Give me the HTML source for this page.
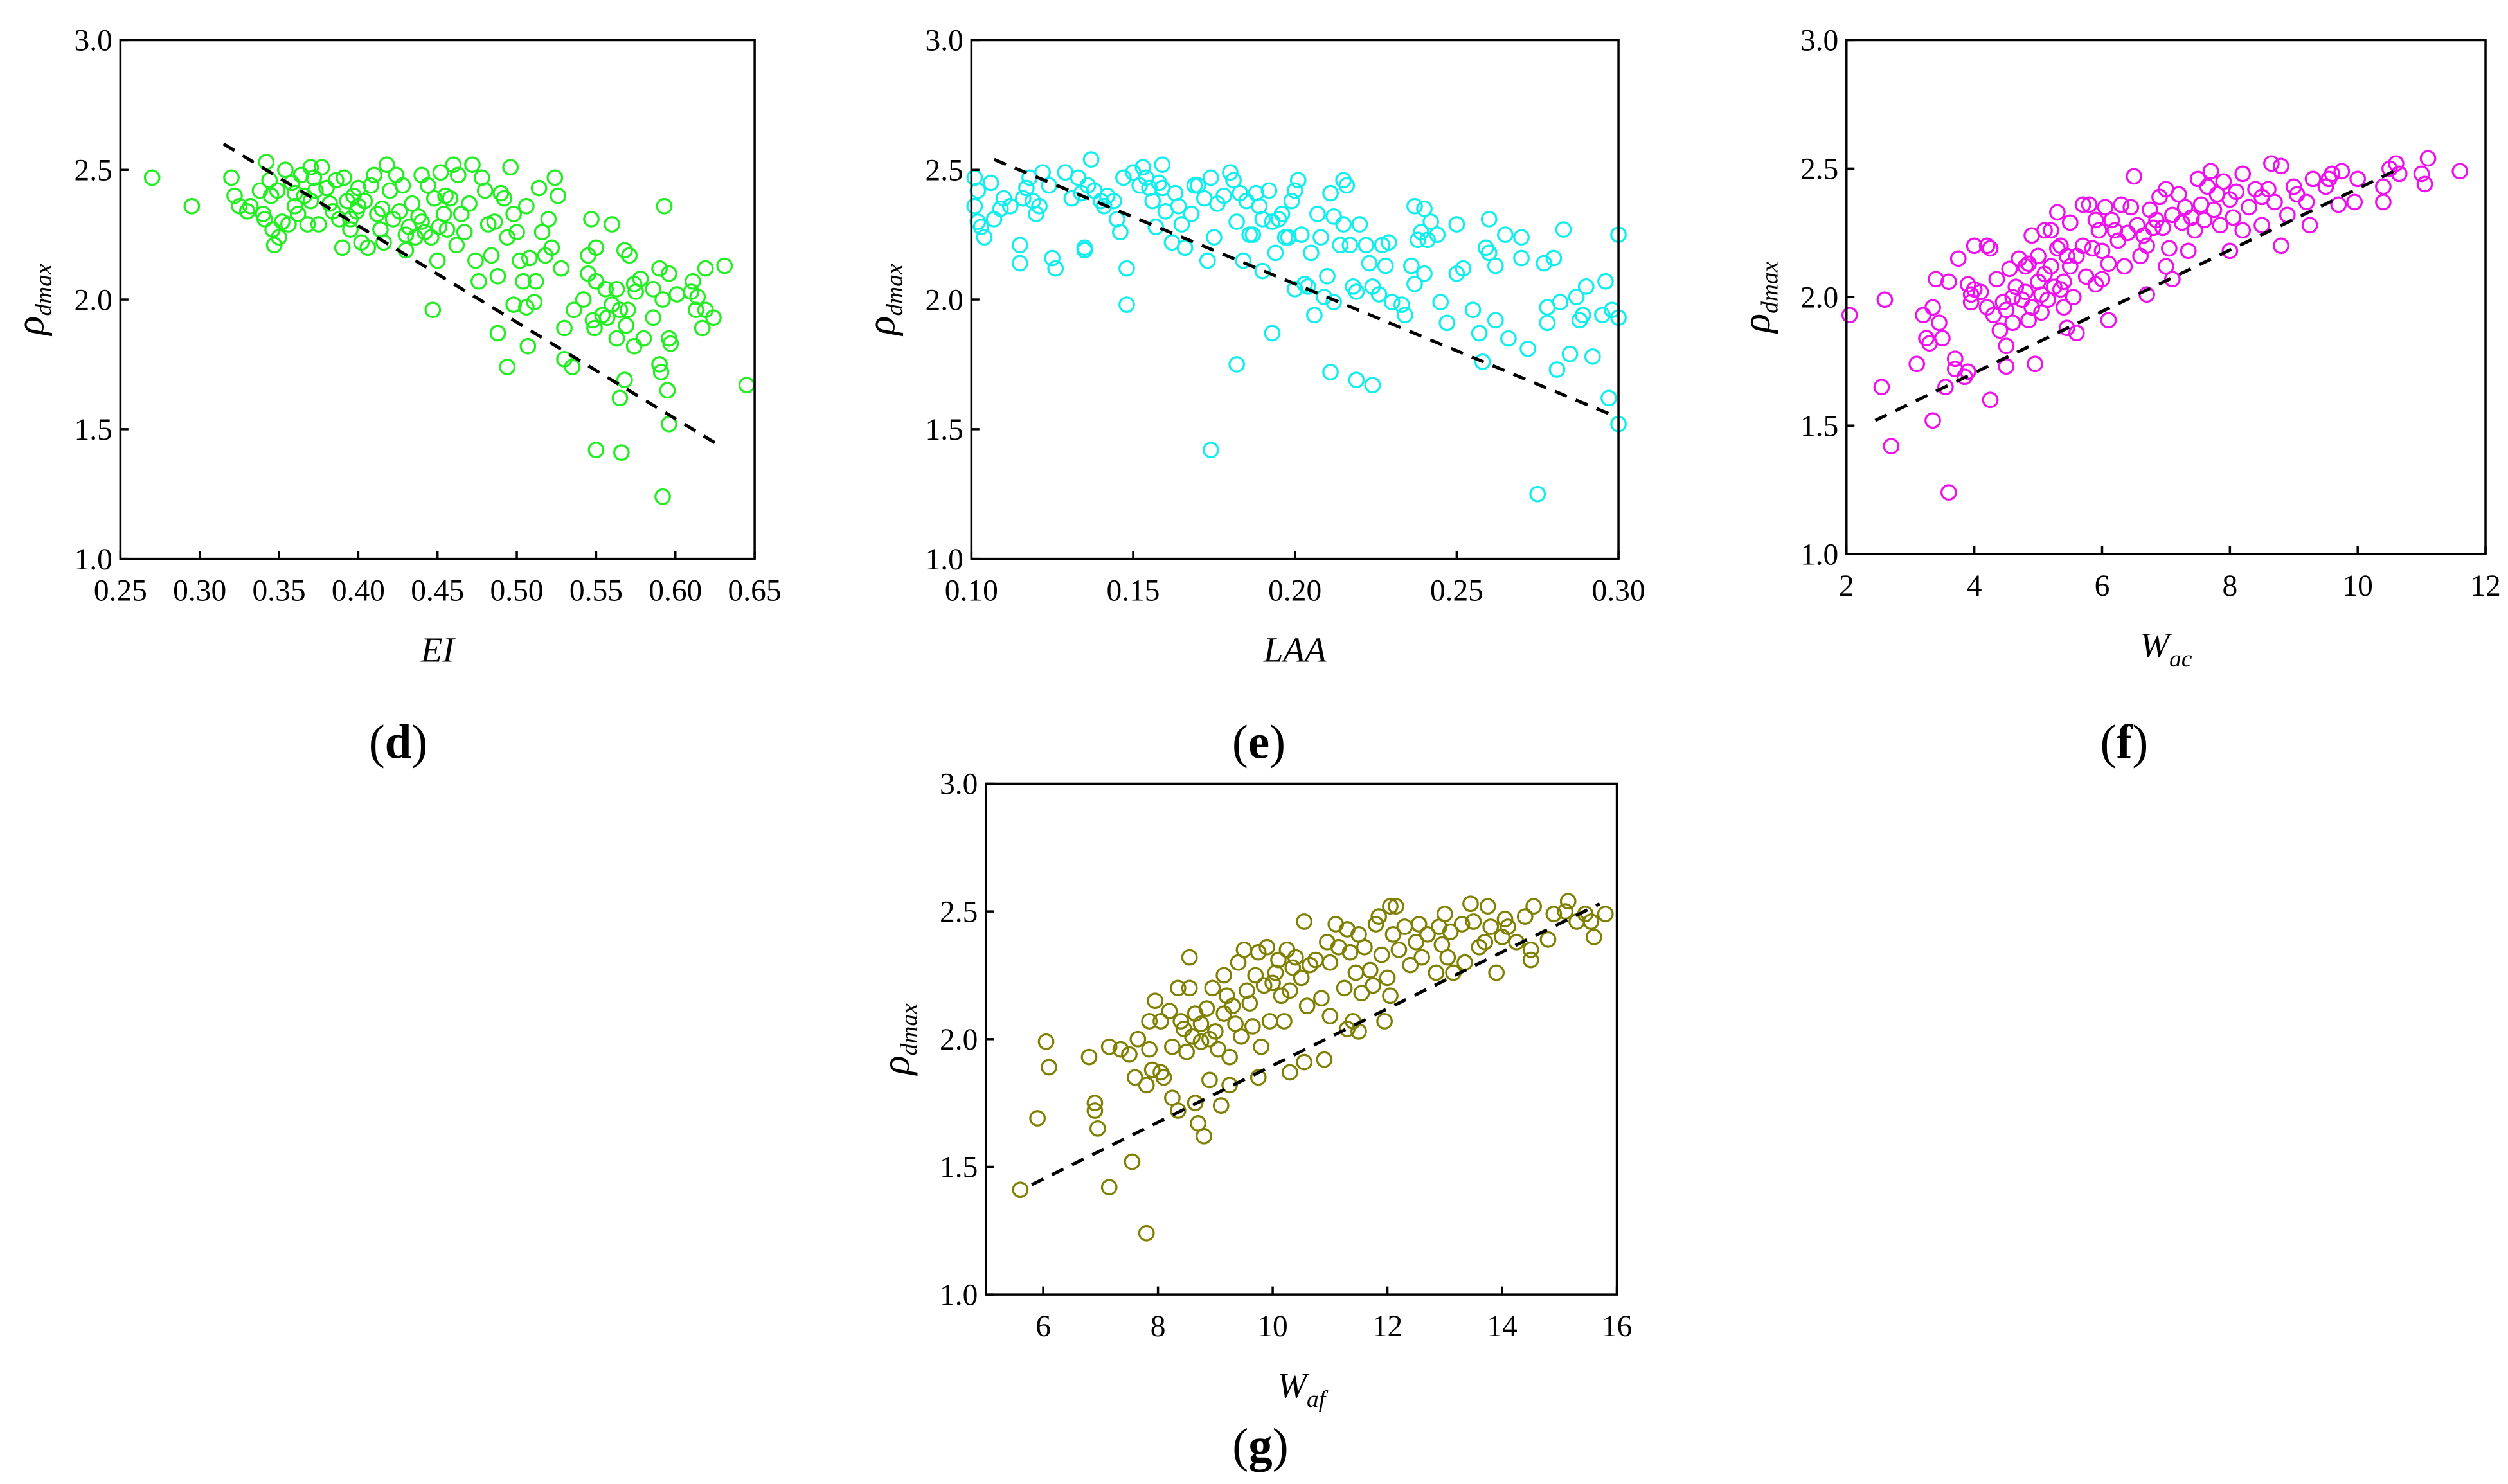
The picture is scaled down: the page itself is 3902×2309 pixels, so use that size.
<!DOCTYPE html>
<html><head><meta charset="utf-8"><style>
html,body{margin:0;padding:0;background:#fff;}
svg{display:block;}
text{font-family:"Liberation Serif","DejaVu Serif",serif;fill:#000;}
</style></head><body>
<svg id="fig" width="3902" height="2309" viewBox="0 0 1562 924" preserveAspectRatio="none" xmlns="http://www.w3.org/2000/svg"></svg>
<script>
const dX = [0.27,0.295,0.32,0.322,0.325,0.33,0.332,0.338,0.34,0.341,0.342,0.344,0.345,0.346,0.347,0.349,0.35,0.352,0.354,0.356,0.358,0.36,0.362,0.364,0.366,0.368,0.37,0.372,0.373,0.375,0.377,0.38,0.382,0.384,0.386,0.388,0.39,0.391,0.393,0.395,0.397,0.399,0.40,0.402,0.404,0.406,0.408,0.41,0.412,0.414,0.416,0.418,0.42,0.422,0.424,0.426,0.428,0.43,0.432,0.434,0.436,0.438,0.44,0.442,0.444,0.446,0.448,0.45,0.451,0.452,0.454,0.456,0.458,0.46,0.462,0.463,0.465,0.467,0.47,0.472,0.474,0.476,0.478,0.48,0.482,0.484,0.486,0.488,0.49,0.492,0.494,0.496,0.498,0.50,0.502,0.504,0.506,0.508,0.512,0.514,0.516,0.518,0.52,0.522,0.524,0.526,0.528,0.40,0.37,0.44,0.36,0.43,0.415,0.455,0.395,
0.547,0.56,0.593,0.55,0.545,0.568,0.571,0.578,0.574,0.59,0.596,0.611,0.619,0.631,0.545,0.55,0.556,0.563,0.575,0.586,0.592,0.601,0.61,0.614,0.613,0.619,0.624,0.617,0.542,0.536,0.548,0.554,0.557,0.56,0.565,0.57,0.569,0.563,0.58,0.586,0.574,0.596,0.597,0.549,0.53,0.53,0.535,0.59,0.591,0.568,0.565,0.595,0.596,0.55,0.566,0.592,0.645,0.507,0.494,0.488,0.447,0.511,0.498,0.506];
const dY = [2.47,2.36,2.47,2.40,2.36,2.34,2.36,2.42,2.33,2.31,2.53,2.46,2.40,2.27,2.21,2.42,2.24,2.30,2.50,2.29,2.45,2.36,2.33,2.48,2.40,2.29,2.51,2.47,2.42,2.29,2.51,2.43,2.37,2.34,2.46,2.31,2.20,2.47,2.38,2.27,2.40,2.34,2.43,2.22,2.38,2.20,2.44,2.48,2.33,2.27,2.22,2.52,2.42,2.31,2.48,2.34,2.44,2.19,2.28,2.37,2.24,2.32,2.48,2.26,2.44,2.24,2.39,2.15,2.28,2.49,2.33,2.27,2.39,2.52,2.21,2.48,2.33,2.26,2.37,2.52,2.15,2.07,2.47,2.42,2.29,2.17,2.30,2.09,2.41,2.39,2.24,2.51,2.33,2.26,2.15,2.07,2.36,2.16,2.07,2.43,2.26,2.17,2.31,2.20,2.47,2.40,2.12,2.36,2.38,2.30,2.41,2.25,2.35,2.40,2.31,
2.31,2.29,2.36,2.20,2.17,2.19,2.17,2.08,2.06,2.12,2.10,2.07,2.12,2.13,2.10,2.07,2.04,2.04,2.03,2.04,2.00,2.02,2.03,2.01,1.96,1.96,1.93,1.89,2.00,1.96,1.92,1.94,1.93,1.98,1.96,1.96,1.90,1.85,1.85,1.93,1.82,1.85,1.83,1.89,1.89,1.77,1.74,1.75,1.72,1.69,1.62,1.65,1.52,1.42,1.41,1.24,1.67,1.82,1.74,1.87,1.96,1.99,1.98,1.97];
const eX = [0.101,0.102,0.101,0.102,0.103,0.104,0.106,0.107,0.109,0.11,0.112,0.115,0.115,0.116,0.117,0.118,0.119,0.12,0.121,0.122,0.124,0.125,0.126,0.129,0.131,0.133,0.134,0.135,0.135,0.136,0.137,0.138,0.14,0.141,0.142,0.144,0.145,0.146,0.147,0.148,0.15,0.152,0.153,0.154,0.155,0.156,0.157,0.158,0.159,0.159,0.16,0.162,0.163,0.164,0.165,0.166,0.168,0.169,0.17,0.172,0.173,0.174,0.175,0.176,0.178,0.18,0.181,0.182,0.183,0.184,0.185,0.186,0.187,0.188,0.189,0.19,0.19,0.192,0.193,0.194,0.195,0.196,0.197,0.198,0.199,0.2,0.201,0.202,0.203,0.204,0.205,0.206,0.207,0.208,0.209,0.21,0.211,0.212,0.214,0.215,0.215,0.216,0.217,0.218,0.219,0.22,0.222,0.223,0.224,0.226,0.227,0.228,0.229,0.23,0.233,0.234,0.236,0.237,0.237,0.238,0.239,0.24,0.24,0.241,0.242,0.244,0.245,0.247,0.25,0.252,0.25,0.255,0.257,0.258,0.259,0.26,0.26,0.262,0.262,0.265,0.266,0.27,0.27,0.272,0.275,0.277,0.278,0.278,0.28,0.281,0.282,0.283,0.285,0.287,0.288,0.289,0.29,0.292,0.295,0.296,0.297,0.298,0.3,0.3,0.3,0.148,0.193,0.174,0.182,0.211,0.219,0.224,0.2,0.212];
const eY = [2.47,2.42,2.36,2.30,2.28,2.24,2.45,2.31,2.35,2.39,2.36,2.21,2.14,2.39,2.43,2.47,2.38,2.33,2.36,2.49,2.44,2.16,2.12,2.49,2.39,2.47,2.41,2.20,2.19,2.44,2.54,2.42,2.38,2.36,2.40,2.38,2.31,2.26,2.47,2.12,2.49,2.44,2.51,2.47,2.43,2.38,2.28,2.45,2.52,2.43,2.34,2.22,2.41,2.36,2.29,2.20,2.33,2.44,2.44,2.39,2.15,2.47,2.24,2.37,2.40,2.49,2.46,2.30,2.41,2.15,2.38,2.25,2.25,2.41,2.36,2.31,2.11,2.42,2.30,2.18,2.31,2.33,2.24,2.24,2.38,2.42,2.46,2.25,2.06,2.05,2.18,1.94,2.33,2.24,2.01,2.09,2.41,2.32,2.21,2.29,2.46,2.44,2.21,2.05,2.03,2.29,2.21,2.14,2.05,2.02,2.21,2.13,2.22,1.99,1.98,1.94,2.13,2.06,2.36,2.23,2.26,2.10,2.35,2.23,2.30,2.25,1.99,1.91,2.10,2.12,2.29,1.96,1.87,1.76,2.20,2.31,2.18,1.92,2.13,2.25,1.85,2.24,2.16,1.81,1.25,2.14,1.97,1.91,2.16,1.73,1.99,2.27,1.79,2.01,1.92,1.94,2.05,1.78,1.94,2.07,1.62,1.96,1.93,2.25,1.52,1.98,1.87,1.42,1.75,1.72,1.69,1.67,2.04,1.99];
const fX = [2.05,2.55,2.6,2.7,3.1,3.2,3.25,3.3,3.35,3.35,3.4,3.45,3.5,3.55,3.6,3.6,3.7,3.7,3.75,3.85,3.9,3.9,3.95,3.95,4.0,4.0,4.1,4.2,4.25,4.2,4.25,4.3,4.35,4.4,4.45,4.5,4.5,4.5,4.55,4.6,4.6,4.65,4.7,4.75,4.8,4.8,4.85,4.85,4.9,4.9,4.95,5.0,5.0,5.05,5.05,5.1,5.1,5.15,5.2,5.2,5.25,5.3,5.3,5.35,5.35,5.4,5.4,5.45,5.45,5.5,5.5,5.55,5.6,5.6,5.7,5.7,5.75,5.8,5.85,5.9,5.9,5.95,6.0,6.0,6.05,6.1,6.1,6.15,6.2,6.25,6.3,6.35,6.4,6.45,6.5,6.55,6.6,6.65,6.7,6.7,6.75,6.8,6.85,6.9,6.95,7.0,7.0,7.05,7.1,7.1,7.2,7.25,7.3,7.35,7.4,7.45,7.5,7.55,7.6,7.65,7.7,7.75,7.8,7.85,7.9,8.0,8.0,8.05,8.1,8.2,8.2,8.3,8.4,8.5,8.5,8.6,8.65,8.7,8.8,8.8,8.9,9.0,9.05,9.2,9.25,9.3,9.5,9.55,9.6,9.7,9.75,10.0,9.95,10.4,10.4,10.5,10.6,10.65,11.0,11.05,11.1,11.6];
const fY = [1.93,1.65,1.99,1.42,1.74,1.93,1.84,1.82,1.96,1.52,2.07,1.90,1.84,1.65,2.06,1.24,1.76,1.72,2.15,1.69,1.71,2.05,1.98,2.01,2.03,2.20,2.02,2.20,2.19,1.96,1.60,1.93,2.07,1.87,1.98,1.95,1.81,1.73,2.11,2.00,1.90,2.04,2.15,1.99,2.12,2.02,2.13,1.91,2.24,1.96,1.74,2.06,2.16,1.94,2.01,2.26,2.09,1.99,2.26,2.12,2.04,2.33,2.19,2.20,2.03,2.06,1.96,2.16,1.88,2.29,2.12,2.00,2.16,1.86,2.36,2.20,2.08,2.36,2.19,2.30,2.05,2.26,2.18,2.07,2.35,2.13,1.91,2.30,2.26,2.22,2.36,2.12,2.25,2.35,2.47,2.28,2.16,2.24,2.20,2.01,2.34,2.27,2.30,2.39,2.27,2.42,2.12,2.19,2.32,2.07,2.40,2.29,2.35,2.18,2.31,2.26,2.46,2.36,2.30,2.43,2.49,2.34,2.40,2.28,2.45,2.38,2.18,2.31,2.41,2.26,2.48,2.35,2.42,2.39,2.28,2.42,2.52,2.37,2.51,2.20,2.32,2.43,2.40,2.37,2.28,2.46,2.43,2.46,2.48,2.36,2.49,2.46,2.37,2.43,2.37,2.50,2.52,2.48,2.48,2.44,2.54,2.49];
const gX = [5.6,5.9,6.05,6.1,6.8,6.9,6.9,6.95,7.15,7.15,7.35,7.5,7.55,7.6,7.65,7.8,7.8,7.85,7.85,7.9,7.95,8.05,8.05,8.1,8.2,8.25,8.25,8.35,8.35,8.4,8.45,8.5,8.55,8.55,8.6,8.65,8.65,8.7,8.75,8.75,8.8,8.85,8.9,8.9,8.95,9.0,9.05,9.1,9.15,9.15,9.2,9.25,9.25,9.3,9.35,9.4,9.45,9.5,9.55,9.6,9.65,9.7,9.75,9.75,9.8,9.85,9.9,9.95,10.0,10.05,10.1,10.15,10.2,10.25,10.3,10.3,10.35,10.4,10.5,10.55,10.55,10.6,10.65,10.75,10.85,10.9,10.95,11.0,11.0,11.1,11.15,11.25,11.3,11.3,11.35,11.4,11.45,11.5,11.5,11.55,11.6,11.7,11.75,11.8,11.85,11.9,11.95,12.0,12.05,12.05,12.1,12.15,12.2,12.3,12.4,12.5,12.55,12.6,12.7,12.85,12.9,12.95,13.0,13.05,13.1,13.15,13.3,13.35,13.45,13.5,13.6,13.7,13.75,13.8,13.9,14.0,14.05,14.1,14.25,14.4,14.5,14.5,14.55,14.8,14.9,15.1,15.15,15.3,15.45,15.55,15.6,15.8];
const gY = [1.41,1.69,1.99,1.89,1.93,1.75,1.72,1.65,1.97,1.42,1.96,1.94,1.52,1.85,2.00,1.82,1.24,1.96,2.07,1.88,2.15,2.07,1.87,1.85,2.11,1.97,1.77,1.72,2.20,2.07,2.04,1.95,2.32,2.20,2.01,2.10,1.75,1.67,2.06,1.99,1.62,2.12,1.84,2.00,2.20,2.03,1.96,1.74,2.25,2.10,2.17,1.93,1.82,2.13,2.06,2.30,2.01,2.35,2.19,2.14,2.05,2.25,2.34,1.85,1.97,2.21,2.36,2.07,2.22,2.26,2.31,2.17,2.07,2.35,2.19,1.87,2.28,2.32,2.24,2.46,1.91,2.13,2.29,2.31,2.16,1.92,2.38,2.30,2.09,2.45,2.36,2.20,2.04,2.43,2.34,2.07,2.26,2.41,2.03,2.18,2.36,2.27,2.21,2.45,2.48,2.33,2.07,2.24,2.17,2.52,2.41,2.52,2.35,2.44,2.29,2.38,2.45,2.32,2.41,2.26,2.44,2.37,2.49,2.32,2.42,2.26,2.45,2.30,2.53,2.46,2.36,2.38,2.52,2.44,2.26,2.40,2.47,2.44,2.38,2.48,2.31,2.35,2.52,2.39,2.49,2.50,2.54,2.46,2.49,2.46,2.40,2.49];
const yTicks = [1.0,1.5,2.0,2.5,3.0];
const dTicks = [0.25,0.30,0.35,0.40,0.45,0.50,0.55,0.60,0.65];
const eTicks = [0.10,0.15,0.20,0.25,0.30];
const fTicks = [2,4,6,8,10,12];
const gTicks = [6,8,10,12,14,16];
const dFit = [[0.315,2.60],[0.627,1.44]];
const eFit = [[0.107,2.54],[0.297,1.56]];
const fFit = [[2.45,1.52],[10.65,2.50]];
const gFit = [[5.8,1.43],[15.7,2.53]];

const NS = "http://www.w3.org/2000/svg";
const svg = document.getElementById('fig');
const FF = '"Liberation Serif", "DejaVu Serif", serif';
function mk(tag, attrs, parent){
  const e = document.createElementNS(NS, tag);
  for (const k in attrs) e.setAttribute(k, attrs[k]);
  if (tag === 'text') e.setAttribute('font-family', FF);
  (parent||svg).appendChild(e);
  return e;
}
function panel(id, cfg){
  const g = mk('g', {});
  
  
  const xs = v => cfg.x0 + (v - cfg.xmin) / (cfg.xmax - cfg.xmin) * (cfg.x1 - cfg.x0);
  const ys = v => cfg.y1 - (v - 1) / 2 * (cfg.y1 - cfg.y0);
  const pts = mk('g', {fill:'none', stroke:cfg.color, 'stroke-width':1.3}, g);
  
  
  for (let i = 0; i < cfg.X.length; i++){
    const c = mk('circle', {cx:xs(cfg.X[i]), cy:ys(cfg.Y[i]), r:4.5}, pts);
    
    
  }
  const fl = mk('line', {x1:xs(cfg.fit[0][0]), y1:ys(cfg.fit[0][1]), x2:xs(cfg.fit[1][0]), y2:ys(cfg.fit[1][1]), stroke:'#000', 'stroke-width':2, 'stroke-dasharray':'8,6'}, g);
  
  
  const box = mk('rect', {x:cfg.x0, y:cfg.y0, width:cfg.x1-cfg.x0, height:cfg.y1-cfg.y0, fill:'none', stroke:'#000', 'stroke-width':1.4}, g);
  
  
  yTicks.forEach(t => {
    const y = ys(t);
    const tl = mk('line', {x1:cfg.x0, y1:y, x2:cfg.x0+5, y2:y, stroke:'#000', 'stroke-width':1.4}, g);
    
    
    const tx = mk('text', {x:cfg.x0-5, y:y+6.5, 'text-anchor':'end', 'font-size':19}, g);
    tx.textContent = t.toFixed(1);
    
    
  });
  cfg.ticks.forEach(t => {
    const x = xs(t);
    const tl = mk('line', {x1:x, y1:cfg.y1, x2:x, y2:cfg.y1-5, stroke:'#000', 'stroke-width':1.4}, g);
    
    
    const tx = mk('text', {x:x, y:cfg.y1+26, 'text-anchor':'middle', 'font-size':19}, g);
    tx.textContent = t.toFixed(cfg.dec);
    
    
  });
  const cy = (cfg.y0 + cfg.y1) / 2;
  const yt = mk('text', {x:0, y:0, transform:`translate(${cfg.x0-48},${cy}) rotate(-90)`, 'text-anchor':'middle', 'font-size':25, 'font-style':'italic'}, g);
  
  
  const t1 = mk('tspan', {}, yt); t1.textContent = 'ρ';
  const t2 = mk('tspan', {'font-size':15, dy:5}, yt); t2.textContent = 'dmax';
  const xt = mk('text', {x:(cfg.x0+cfg.x1)/2, y:cfg.y1+64, 'text-anchor':'middle', 'font-size':22, 'font-style':'italic'}, g);
  
  
  const a1 = mk('tspan', {}, xt); a1.textContent = cfg.xt;
  if (cfg.xsub){ const a2 = mk('tspan', {'font-size':15, dy:6}, xt); a2.textContent = cfg.xsub; }
  const pl = mk('text', {x:cfg.lx, y:cfg.ly, 'text-anchor':'middle', 'font-size':30}, g);
  
  
  const p1 = mk('tspan', {}, pl); p1.textContent = '(';
  const p2 = mk('tspan', {'font-weight':'bold'}, pl); p2.textContent = id;
  const p3 = mk('tspan', {}, pl); p3.textContent = ')';
}
panel('d', {x0:75,x1:470,y0:25,y1:348,xmin:0.25,xmax:0.65,X:dX,Y:dY,fit:dFit,ticks:dTicks,dec:2,color:'#22ee22',xt:'EI',xsub:'',lx:248,ly:472});
panel('e', {x0:605,x1:1008,y0:25,y1:348,xmin:0.10,xmax:0.30,X:eX,Y:eY,fit:eFit,ticks:eTicks,dec:2,color:'#11eeee',xt:'LAA',xsub:'',lx:784,ly:472});
panel('f', {x0:1150,x1:1548,y0:25,y1:345,xmin:2,xmax:12,X:fX,Y:fY,fit:fFit,ticks:fTicks,dec:0,color:'#ee11ee',xt:'W',xsub:'ac',lx:1323,ly:472});
panel('g', {x0:614,x1:1007,y0:488,y1:806,xmin:5,xmax:16,X:gX,Y:gY,fit:gFit,ticks:gTicks,dec:0,color:'#7f7f00',xt:'W',xsub:'af',lx:785,ly:910});
</script>
</body></html>
